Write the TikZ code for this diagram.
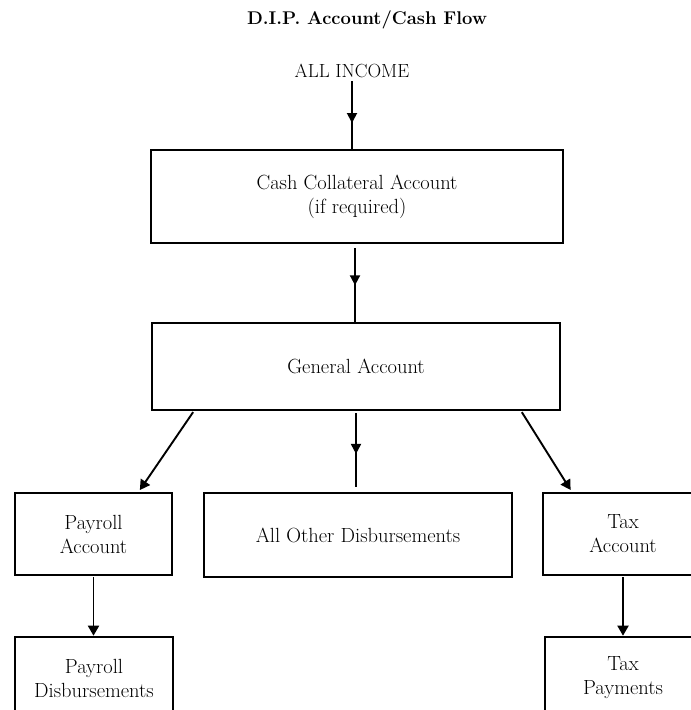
\documentclass[tikz,border=0pt]{standalone}
\usepackage{fontspec}
\usetikzlibrary{arrows.meta,decorations.markings,calc}

\begin{document}
\begin{tikzpicture}[
  x=1pt, y=-1pt,
  every node/.style={font=\fontsize{20.5}{24}\selectfont, align=center},
  box/.style={draw, line width=2.6pt, inner sep=0pt},
  conn/.style={line width=1.9pt},
  tipend/.style={conn, -{Triangle[length=10pt,width=11pt]}},
  midflow/.style={conn, postaction={decorate},
    decoration={markings, mark=at position #1 with {\arrow{Triangle[length=10pt,width=10pt]}}}},
]
  % page frame; the lowest and rightmost boxes run past it
  \useasboundingbox (0,0) rectangle (691,710);
  \clip (0,0) rectangle (691,710);

  % headings
  \node[font=\fontsize{18.4}{22}\selectfont\bfseries] (title) at (367,20) {D.I.P. Account/Cash Flow};
  \node[font=\fontsize{19}{22}\selectfont, inner sep=3pt] (allinc) at (352,71) {ALL INCOME};

  % account boxes
  \node[box, minimum width=412pt, minimum height=93pt] (cash) at (357,196.5)
    {Cash Collateral Account\\(if required)};
  \node[box, minimum width=408pt, minimum height=87pt] (gen) at (356,366.5) {General Account};
  \node[box, minimum width=157pt, minimum height=82pt] (payacc) at (93.5,534) {Payroll\\Account};
  \node[box, minimum width=308pt, minimum height=84pt] (other) at (358,535) {All Other Disbursements};
  \node[box, minimum width=160pt, minimum height=82pt] (taxacc) at (623,534) {Tax\\Account};
  \node[box, minimum width=158pt, minimum height=82pt] (paydis) at (94,678) {Payroll\\Disbursements};
  \node[box, minimum width=156pt, minimum height=82pt] (taxpay) at (623,678) {Tax\\Payments};

  % branch points on the general account
  \coordinate (genL) at ([xshift=43pt]gen.south west);
  \coordinate (genR) at ([xshift=-40pt]gen.south east);
  \coordinate (payIn) at ([xshift=125pt]payacc.north west);
  \coordinate (taxIn) at ([xshift=30pt]taxacc.north west);

  % cash flow connectors
  \draw[midflow=0.62] (allinc.south) -- (allinc.south |- cash.north);
  \draw[midflow=0.53, shorten <=4pt] ([xshift=-2pt]cash.south) -- ([xshift=-2pt]cash.south |- gen.north);
  \draw[midflow=0.53, shorten <=2pt, shorten >=5pt] (gen.south) -- (gen.south |- other.north);
  \draw[tipend, shorten <=1pt, shorten >=2pt] (genL) -- (payIn);
  \draw[tipend, shorten <=1pt, shorten >=2pt] (genR) -- (taxIn);
  \draw[tipend, shorten <=1pt] (payacc.south) -- (payacc.south |- paydis.north);
  \draw[tipend, shorten <=1pt] (taxacc.south) -- (taxacc.south |- taxpay.north);
\end{tikzpicture}
\end{document}
